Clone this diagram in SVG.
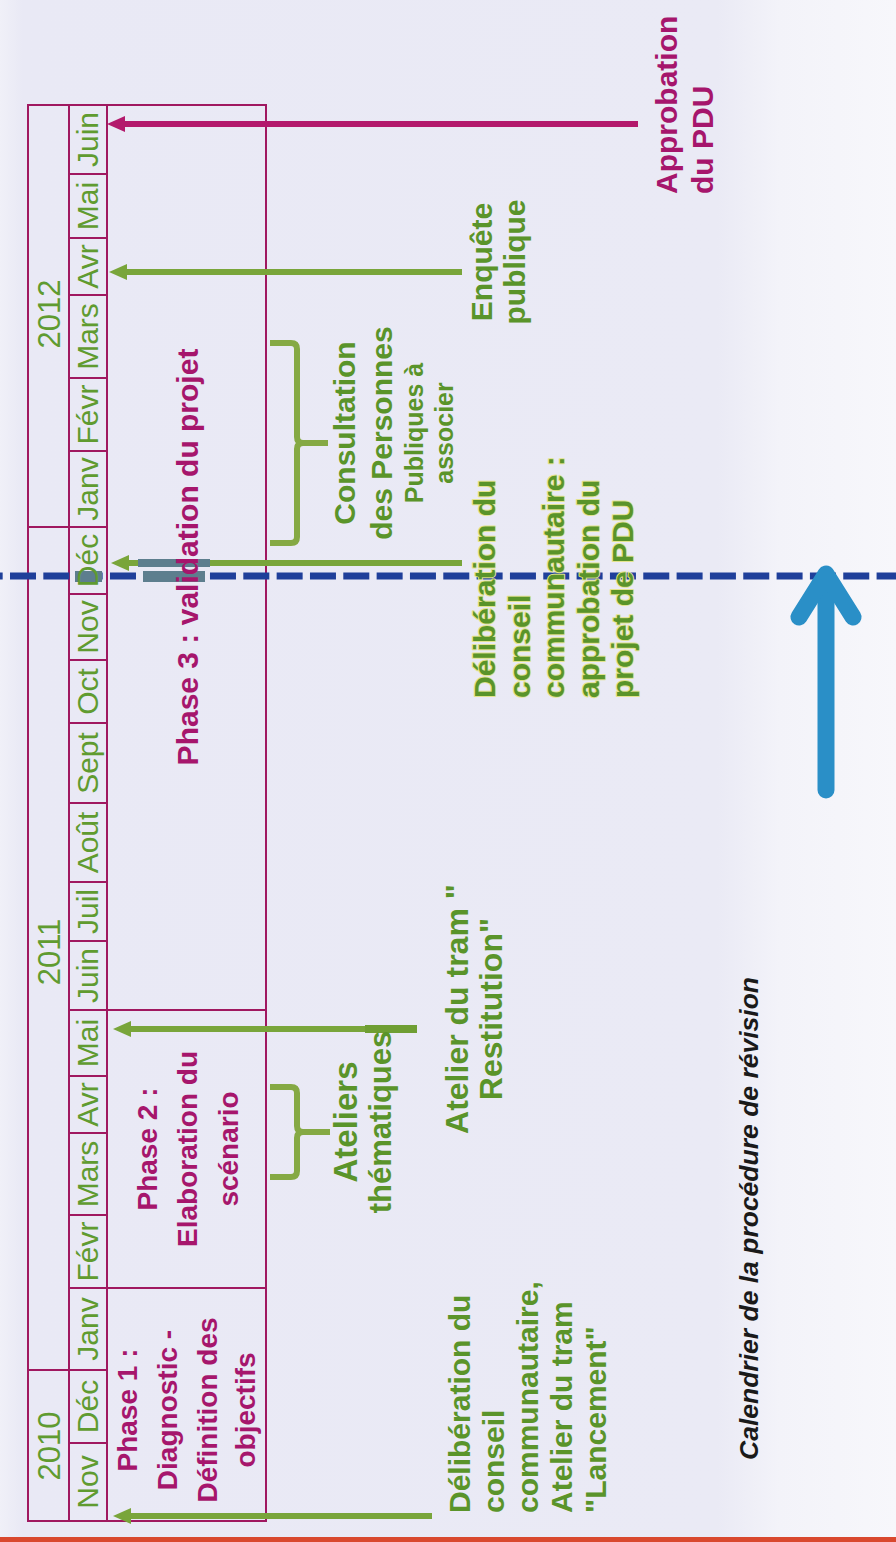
<svg xmlns="http://www.w3.org/2000/svg" width="896" height="1542" viewBox="0 0 896 1542">
<defs>
<linearGradient id="bg" x1="0" y1="0" x2="1" y2="0">
<stop offset="0" stop-color="#f0f0f8"/>
<stop offset="0.025" stop-color="#e9e9f5"/>
<stop offset="0.8" stop-color="#eaeaf5"/>
<stop offset="0.87" stop-color="#f3f3f9"/>
<stop offset="1" stop-color="#f7f7fb"/>
</linearGradient>
<marker id="hg" markerUnits="userSpaceOnUse" markerWidth="20" markerHeight="20" viewBox="0 -10 20 20" refX="4" refY="0" orient="auto"><path d="M0,-8 L18,0 L0,8 z" fill="#79a53a"/></marker>
<marker id="hm" markerUnits="userSpaceOnUse" markerWidth="20" markerHeight="20" viewBox="0 -10 20 20" refX="4" refY="0" orient="auto"><path d="M0,-8 L18,0 L0,8 z" fill="#b3196c"/></marker>
</defs>
<style>
.yr{font-family:'Liberation Sans',Arial,sans-serif;font-size:31px;fill:#609b30;text-anchor:middle}
.mo{font-family:'Liberation Sans',Arial,sans-serif;font-size:30px;fill:#609b30;text-anchor:middle}
.ph{font-family:'Liberation Sans',Arial,sans-serif;font-weight:bold;fill:#a6166c;text-anchor:middle}
.pm{font-family:'Liberation Sans',Arial,sans-serif;font-weight:bold;font-size:30px;fill:#a6166c}
.gl{font-family:'Liberation Sans',Arial,sans-serif;font-weight:bold;font-size:30px;fill:#5a942a}
.mid{text-anchor:middle}
.glow{stroke:#e3e48e;stroke-width:2px;paint-order:stroke;stroke-linejoin:round}
.cap{font-family:'Liberation Sans',Arial,sans-serif;font-weight:bold;font-style:italic;font-size:26.5px;fill:#1a1a1a}
.grid{stroke:#a01860;fill:none;stroke-width:2}
.ga{stroke:#79a53a;stroke-width:6;fill:none;marker-end:url(#hg)}
.ma{stroke:#b3196c;stroke-width:6;fill:none;marker-end:url(#hm)}
.br{stroke:#85a944;stroke-width:6;fill:none;stroke-linejoin:round}
</style>
<rect x="0" y="0" width="896" height="1542" fill="url(#bg)"/>
<rect x="0" y="1537" width="896" height="5" fill="#d9482e"/>

<g id="table">
<rect x="28" y="105" width="238" height="1416" class="grid" stroke-width="3"/>
<path class="grid" d="M69,105 V1521 M107,105 V1521 M28,1370 H69 M28,527 H69 M69,1288 H266 M69,1010 H266 M69,1443 H107 M69,1370 H107 M69,1215 H107 M69,1133 H107 M69,1076 H107 M69,941 H107 M69,882 H107 M69,803 H107 M69,723 H107 M69,660 H107 M69,594 H107 M69,527 H107 M69,451 H107 M69,378 H107 M69,295 H107 M69,238 H107 M69,174 H107"/>
</g>

<g id="connectors">
<line x1="432" y1="1516" x2="127" y2="1516" class="ga"/>
<line x1="365" y1="1029" x2="127" y2="1029" class="ga" stroke-width="5"/>
<line x1="365" y1="1029" x2="417" y2="1029" stroke="#6f9e33" stroke-width="8"/>
<line x1="462" y1="563" x2="125" y2="563" class="ga"/>
<line x1="462" y1="272" x2="123" y2="272" class="ga"/>
<line x1="638" y1="124" x2="121" y2="124" class="ma"/>
<path class="br" d="M270,1087 H291 Q297,1087 297,1093 V1126 Q297,1132 303,1132 H330 M303,1132 Q297,1132 297,1138 V1171 Q297,1177 291,1177 H270"/>
<path class="br" d="M270,343 H291 Q297,343 297,349 V437 Q297,443 303,443 H328 M303,443 Q297,443 297,449 V537 Q297,543 291,543 H270"/>
<line x1="-23.33" y1="576" x2="900" y2="576" stroke="#1f3f9a" stroke-width="7" stroke-dasharray="26 7.33"/>
<rect x="75" y="571" width="27" height="11" fill="#5d7e8e"/>
<rect x="143" y="571" width="62" height="11" fill="#5d7e8e"/>
<rect x="138" y="559" width="72" height="8" fill="#5d7e8e"/>
<g id="blue-arrow" stroke="#2a8fc7" stroke-width="17" fill="none" stroke-linecap="round">
<line x1="826" y1="790" x2="826" y2="585"/>
<polyline points="799,617 826,574 853,617" stroke-linejoin="round"/>
</g>
</g>

<g transform="translate(0,1542) rotate(-90)">
<g id="years">
<text class="yr" x="96" y="60">2010</text>
<text class="yr" x="590" y="60">2011</text>
<text class="yr" x="1228" y="60">2012</text>
</g>
<g id="months">
<text class="mo" x="60" y="98">Nov</text>
<text class="mo" x="135.5" y="98">Déc</text>
<text class="mo" x="213" y="98">Janv</text>
<text class="mo" x="290.5" y="98">Févr</text>
<text class="mo" x="368" y="98">Mars</text>
<text class="mo" x="437.5" y="98">Avr</text>
<text class="mo" x="499" y="98">Mai</text>
<text class="mo" x="566.5" y="98">Juin</text>
<text class="mo" x="630.5" y="98">Juil</text>
<text class="mo" x="699.5" y="98">Août</text>
<text class="mo" x="779" y="98">Sept</text>
<text class="mo" x="850.5" y="98">Oct</text>
<text class="mo" x="915" y="98">Nov</text>
<text class="mo" x="981.5" y="98">Déc</text>
<text class="mo" x="1053" y="98">Janv</text>
<text class="mo" x="1127.5" y="98">Févr</text>
<text class="mo" x="1205.5" y="98">Mars</text>
<text class="mo" x="1275.5" y="98">Avr</text>
<text class="mo" x="1336" y="98">Mai</text>
<text class="mo" x="1402.5" y="98">Juin</text>
</g>
<g id="phase1" class="ph" font-size="28">
<text x="132" y="137">Phase 1 :</text>
<text x="132" y="177">Diagnostic -</text>
<text x="132" y="217">Définition des</text>
<text x="132" y="255">objectifs</text>
</g>
<g id="phase2" class="ph" font-size="28">
<text x="393" y="157">Phase 2 :</text>
<text x="393" y="197">Elaboration du</text>
<text x="393" y="238">scénario</text>
</g>
<g id="phase3" class="ph" font-size="30">
<text x="985" y="198">Phase 3 : validation du projet</text>
</g>
<g id="label-lancement" class="gl">
<text x="29" y="470">Délibération du</text>
<text x="29" y="504">conseil</text>
<text x="29" y="538">communautaire,</text>
<text x="29" y="572">Atelier du tram</text>
<text x="29" y="606">"Lancement"</text>
</g>
<g id="label-ateliers" class="gl mid" font-size="32">
<text x="420" y="357" font-size="33">Ateliers</text>
<text x="420" y="391" font-size="31">thématiques</text>
</g>
<g id="label-restitution" class="gl mid">
<text x="533" y="468" font-size="32">Atelier du tram "</text>
<text x="533" y="502" font-size="32">Restitution"</text>
</g>
<g id="label-deliberation" class="gl glow">
<text x="844" y="495">Délibération du</text>
<text x="844" y="529.5">conseil</text>
<text x="844" y="564">communautaire :</text>
<text x="844" y="598.5">approbation du</text>
<text x="844" y="633">projet de PDU</text>
</g>
<g id="label-consultation" class="gl mid">
<text x="1109" y="355">Consultation</text>
<text x="1109" y="392">des Personnes</text>
<text x="1109" y="423" font-size="25">Publiques à</text>
<text x="1109" y="453" font-size="25">associer</text>
</g>
<g id="label-enquete" class="gl mid">
<text x="1280" y="492">Enquête</text>
<text x="1280" y="525">publique</text>
</g>
<g id="label-approbation" class="pm">
<text x="1348" y="677">Approbation</text>
<text x="1348" y="713">du PDU</text>
</g>
<g id="caption">
<text class="cap" x="82" y="758">Calendrier de la procédure de révision</text>
</g>
</g>
</svg>
